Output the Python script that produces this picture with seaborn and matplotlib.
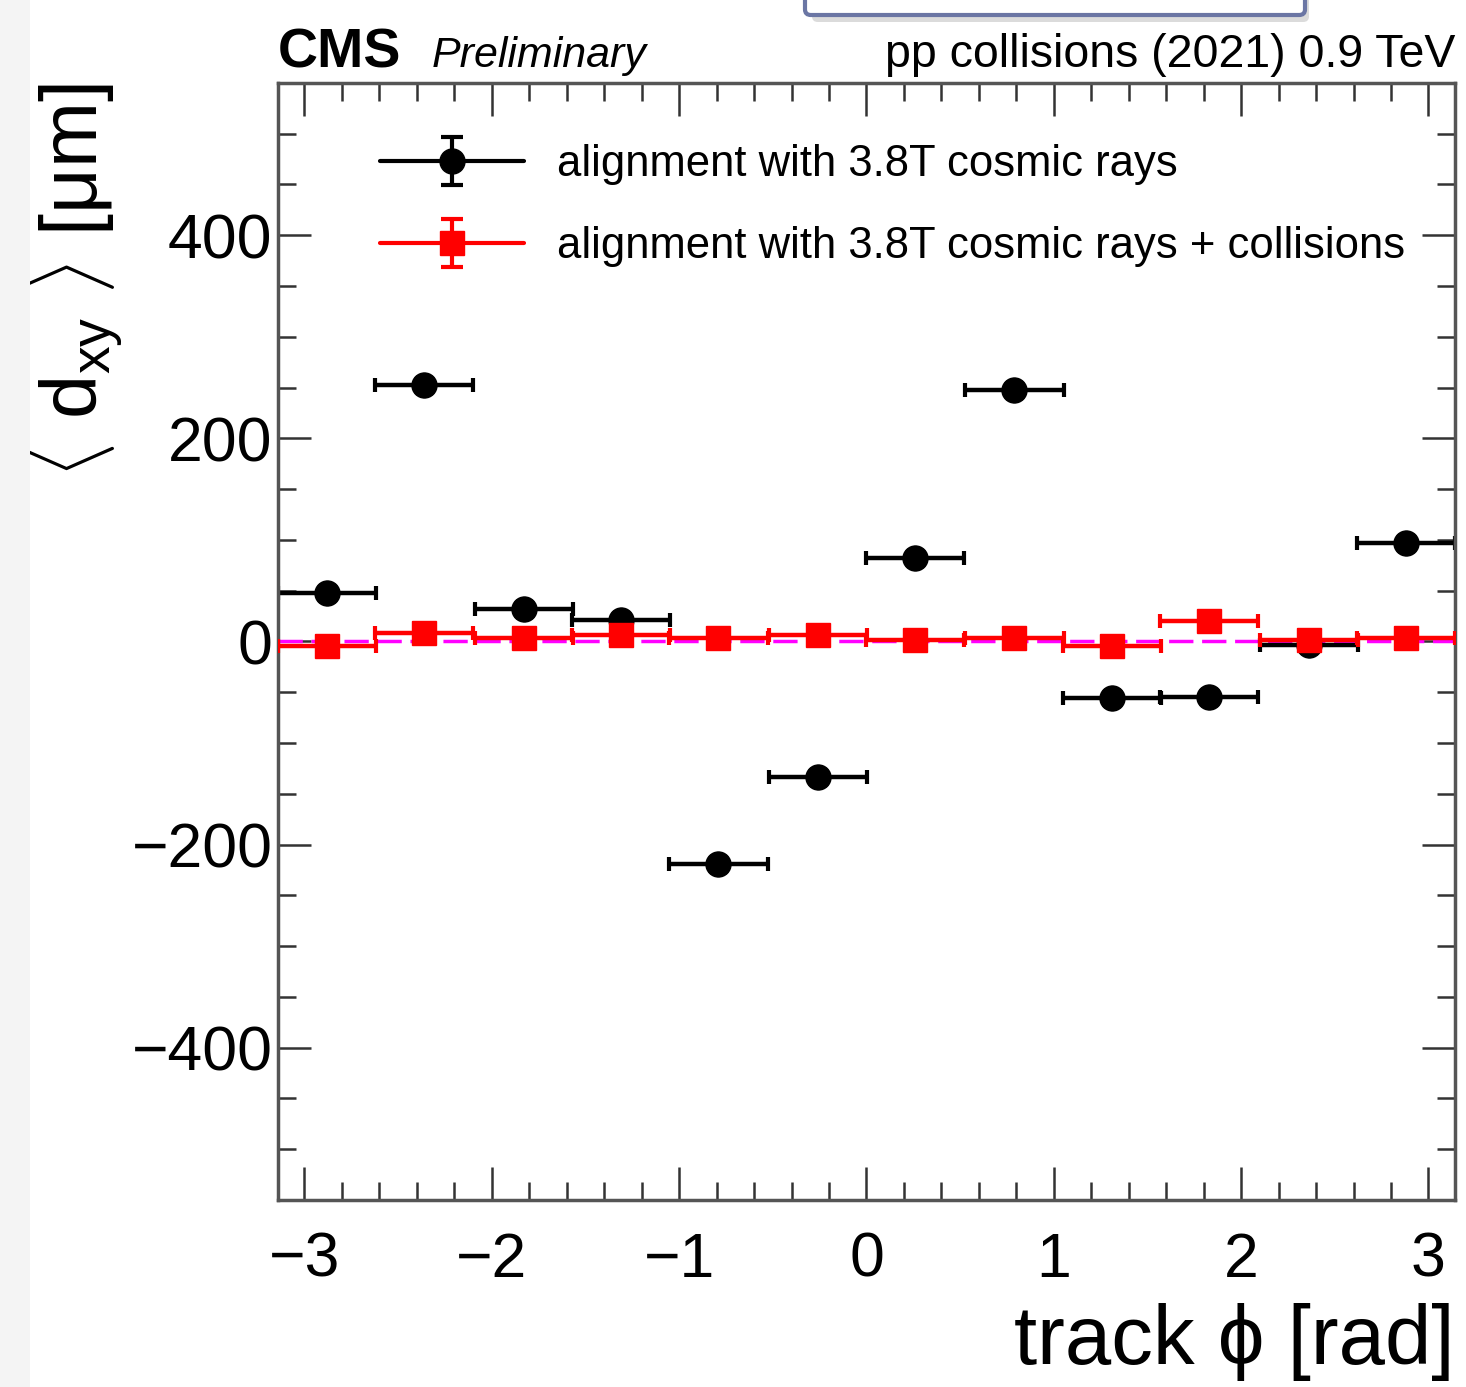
import matplotlib
matplotlib.use("Agg")
import matplotlib.pyplot as plt
import seaborn as sns
import numpy as np
import pandas as pd
from matplotlib.patches import Rectangle, FancyBboxPatch
from matplotlib.ticker import MultipleLocator
from matplotlib.lines import Line2D
from matplotlib.container import ErrorbarContainer
from matplotlib.legend_handler import HandlerErrorbar, HandlerTuple

# ---- data ----
phi_centers = [-2.88, -2.36, -1.83, -1.31, -0.79, -0.26, 0.26, 0.79, 1.31, 1.83, 2.36, 2.88]
phi_halfwidth = [0.262, 0.262, 0.262, 0.262, 0.262, 0.262, 0.262, 0.262, 0.262, 0.262, 0.262, 0.262]
dxy_cosmics = [48, 253, 32, 21, -219, -133, 82, 248, -56, -55, -3, 97]
dxy_cosmics_err = [3, 3, 3, 3, 3, 3, 3, 3, 3, 3, 3, 3]
dxy_collisions = [-4, 8, 3, 6, 3, 6, 1, 3, -4, 20, 1, 3]
dxy_collisions_err = [3, 3, 3, 3, 3, 3, 3, 3, 3, 3, 3, 3]
label_cosmics = "alignment with 3.8T cosmic rays"
label_collisions = "alignment with 3.8T cosmic rays + collisions"

df = pd.DataFrame({
    "phi": phi_centers * 2,
    "dxy": dxy_cosmics + dxy_collisions,
    "series": [label_cosmics] * 12 + [label_collisions] * 12,
})

sns.set_theme(style="ticks")
plt.rcParams['font.family'] = ['Liberation Sans', 'DejaVu Sans']
plt.rcParams['mathtext.fontset'] = 'custom'
plt.rcParams['mathtext.rm'] = 'Liberation Sans'
plt.rcParams['mathtext.it'] = 'Liberation Sans:italic'
plt.rcParams['mathtext.bf'] = 'Liberation Sans:bold'
plt.rcParams['text.color'] = 'black'
plt.rcParams['axes.labelcolor'] = 'black'
plt.rcParams['xtick.color'] = 'black'
plt.rcParams['ytick.color'] = 'black'

fig = plt.figure(figsize=(14.66, 13.87), dpi=100)
fig.patch.set_facecolor('white')
ax = fig.add_axes([0.1896, 0.1348, 0.8029, 0.8054])

# faint grey strip on the left of the canvas
fig.patches.append(Rectangle((0, 0), 30 / 1466, 1, transform=fig.transFigure,
                             facecolor='#f4f4f4', edgecolor='none', zorder=0))

ax.axhline(0, color='#ff00ff', ls=(0, (7, 2.5)), lw=2.5, zorder=1)

# error bars
ax.errorbar(phi_centers, dxy_cosmics, xerr=phi_halfwidth, yerr=dxy_cosmics_err,
            fmt='o', ms=18, color='black', ecolor='black', elinewidth=3.2,
            capsize=5, capthick=3, zorder=2)
ax.errorbar(phi_centers, dxy_collisions, xerr=phi_halfwidth, yerr=dxy_collisions_err,
            fmt='s', ms=17, color='#ff0000', ecolor='#ff0000', elinewidth=3.2,
            capsize=5, capthick=3, zorder=4)

# markers via seaborn
sns.scatterplot(data=df[df.series == label_cosmics], x="phi", y="dxy", color='black',
                marker='o', s=330, linewidth=0, legend=False, ax=ax, zorder=3)
sns.scatterplot(data=df[df.series == label_collisions], x="phi", y="dxy", color='#ff0000',
                marker='s', s=290, linewidth=0, legend=False, ax=ax, zorder=5)

ax.set_xlim(-3.1416, 3.1416)
ax.set_ylim(-550, 550)
ax.xaxis.set_major_locator(MultipleLocator(1))
ax.xaxis.set_minor_locator(MultipleLocator(0.2))
ax.yaxis.set_major_locator(MultipleLocator(200))
ax.yaxis.set_minor_locator(MultipleLocator(50))
ax.tick_params(which='both', direction='in', top=True, right=True, color='#333333',
               labelcolor='black')
ax.tick_params(which='major', length=24, width=1.8)
ax.tick_params(which='minor', length=13, width=1.8)
ax.tick_params(axis='x', which='major', labelsize=45, pad=22)
ax.tick_params(axis='y', which='major', labelsize=45, pad=4)
for sp in ax.spines.values():
    sp.set_color('#555555')
    sp.set_linewidth(2.5)

ax.set_xlabel('track \u03d5 [rad]', fontsize=60, loc='right', labelpad=10, color='black')
ax.set_ylabel('$\\langle\\ \\mathrm{d}_{\\mathrm{xy}}\\ \\rangle$ [\u03bcm]', fontsize=57,
              loc='top', color='black')
ax.yaxis.set_label_coords(-0.13, 1.0)

# legend handles: horizontal line + marker with vertical error bar
h1_line = Line2D([], [], color='black', lw=3)
h1_err = ax.errorbar([np.nan], [np.nan], yerr=[1], fmt='o', ms=18, color='black',
                     elinewidth=3, capsize=8, capthick=3)
h2_line = Line2D([], [], color='#ff0000', lw=3)
h2_err = ax.errorbar([np.nan], [np.nan], yerr=[1], fmt='s', ms=17, color='#ff0000',
                     elinewidth=3, capsize=8, capthick=3)

leg = ax.legend(handles=[(h1_line, h1_err), (h2_line, h2_err)],
                labels=[label_cosmics, label_collisions],
                handler_map={tuple: HandlerTuple(ndivide=1),
                             ErrorbarContainer: HandlerErrorbar(yerr_size=0.55)},
                loc='upper left', bbox_to_anchor=(0.087, 0.945), frameon=False,
                fontsize=31.4, handlelength=3.3, handletextpad=0.75, labelspacing=0.93,
                borderpad=0, borderaxespad=0)

fig.text(278 / 1466, 1 - 67 / 1387, 'CMS', fontsize=40, fontweight='bold', va='baseline', ha='left')
fig.text(432 / 1466, 1 - 67 / 1387, 'Preliminary', fontsize=31, style='italic', va='baseline', ha='left')
fig.text(1455 / 1466, 1 - 67 / 1387, 'pp collisions (2021) 0.9 TeV', fontsize=33.5, va='baseline', ha='right')

# cut-off box at the top of the canvas
shadow = FancyBboxPatch((812 / 1466, 1 - 22 / 1387), 497 / 1466, 0.05,
                        boxstyle='round,pad=0,rounding_size=0.004', transform=fig.transFigure,
                        facecolor='#999999', edgecolor='none', alpha=0.35, clip_on=False, zorder=9)
box = FancyBboxPatch((805 / 1466, 1 - 15 / 1387), 500 / 1466, 0.05,
                     boxstyle='round,pad=0,rounding_size=0.004', transform=fig.transFigure,
                     facecolor='white', edgecolor='#6b76a4', linewidth=3, clip_on=False, zorder=10)
fig.patches.extend([shadow, box])

fig.savefig('out.png', dpi=100)
